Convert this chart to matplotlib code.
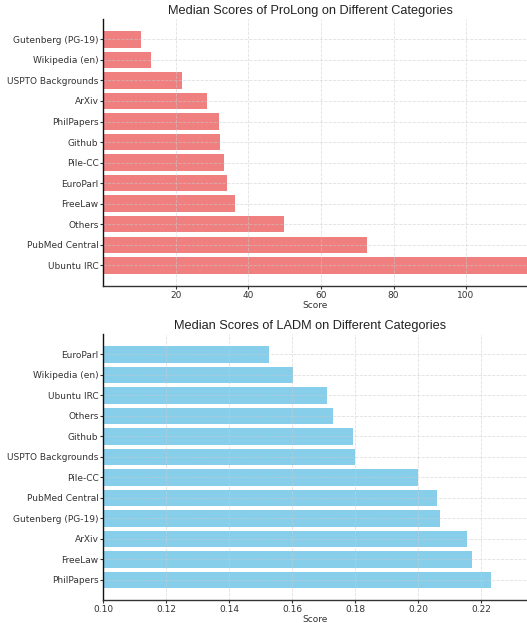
import matplotlib
matplotlib.use("Agg")
import matplotlib.pyplot as plt

# Data (top-to-bottom order as displayed)
prolong_categories = ["Gutenberg (PG-19)", "Wikipedia (en)", "USPTO Backgrounds", "ArXiv",
                      "PhilPapers", "Github", "Pile-CC", "EuroParl", "FreeLaw", "Others",
                      "PubMed Central", "Ubuntu IRC"]
prolong_scores = [10.3, 13.1, 21.8, 28.7, 32.0, 32.2, 33.3, 34.1, 36.3, 49.7, 72.6, 117.5]

ladm_categories = ["EuroParl", "Wikipedia (en)", "Ubuntu IRC", "Others", "Github",
                   "USPTO Backgrounds", "Pile-CC", "PubMed Central", "Gutenberg (PG-19)",
                   "ArXiv", "FreeLaw", "PhilPapers"]
ladm_scores = [0.1527, 0.1604, 0.1712, 0.1731, 0.1792, 0.1800, 0.2001, 0.2060, 0.2070,
               0.2155, 0.2171, 0.2231]

prolong_xticks = [20, 40, 60, 80, 100]
ladm_xticks = [0.10, 0.12, 0.14, 0.16, 0.18, 0.20, 0.22]

W, H = 527, 623
fig = plt.figure(figsize=(W / 100, H / 100), dpi=100)

FS = 6.5

def style(ax):
    ax.spines["top"].set_visible(False)
    ax.spines["right"].set_visible(False)
    for s in ("left", "bottom"):
        ax.spines[s].set_linewidth(1.0)
        ax.spines[s].set_zorder(5)
    ax.spines["left"].set_color("#111111")
    ax.spines["bottom"].set_color("#333333")
    ax.grid(True, linestyle="--", color="#cccccc", linewidth=0.6, alpha=0.6)
    ax.set_axisbelow(False)
    ax.tick_params(axis="both", labelsize=FS, colors="#333333", length=2.5, width=0.8, pad=1.2)
    ax.tick_params(axis="y", pad=1)

left = 103.3 / W
right = 1.0
ax1 = fig.add_axes([left, 1 - 285.7 / H, right - left, (285.7 - 19) / H])
ypos1 = list(range(len(prolong_categories)))
ax1.barh(ypos1, prolong_scores, color="#f08080", height=0.8)
ax1.set_yticks(ypos1)
ax1.set_yticklabels(prolong_categories)
ax1.invert_yaxis()
ax1.set_xlim(0, 116.8)
ax1.set_xticks(prolong_xticks)
style(ax1)
ax1.set_xlabel("Score", fontsize=FS, color="#333333", labelpad=0.5)
ax1.set_title("Median Scores of ProLong on Different Categories", fontsize=9.2,
              family="Liberation Sans", color="#222222", x=0.489, pad=3.5)

ax2 = fig.add_axes([left, 1 - 600.3 / H, right - left, (600.3 - 334) / H])
ypos2 = list(range(len(ladm_categories)))
ax2.barh(ypos2, ladm_scores, color="#87ceeb", height=0.8)
ax2.set_yticks(ypos2)
ax2.set_yticklabels(ladm_categories)
ax2.invert_yaxis()
ax2.set_xlim(0.10, 0.2346)
ax2.set_xticks(ladm_xticks)
ax2.set_xticklabels([f"{t:.2f}" for t in ladm_xticks])
style(ax2)
ax2.set_xlabel("Score", fontsize=FS, color="#333333", labelpad=0.5)
ax2.set_title("Median Scores of LADM on Different Categories", fontsize=9.2,
              family="Liberation Sans", color="#222222", x=0.489, pad=3.5)

fig.savefig("out.png", dpi=100)
